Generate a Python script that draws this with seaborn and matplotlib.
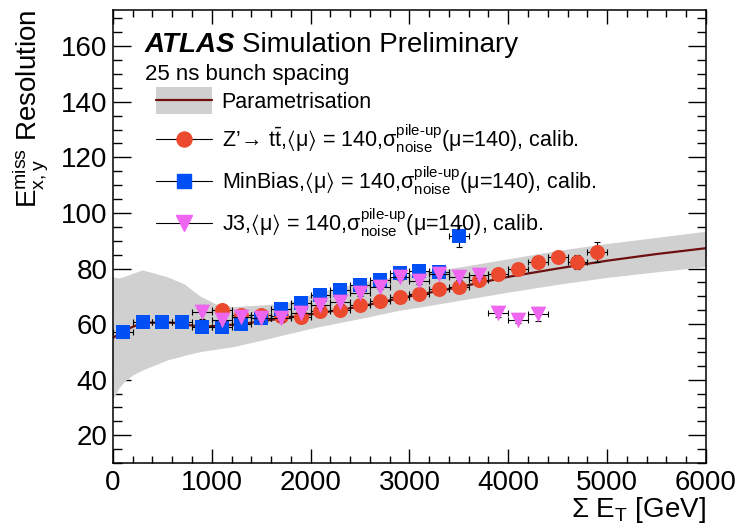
import numpy as np
import pandas as pd
import matplotlib
matplotlib.use("Agg")
import matplotlib.pyplot as plt
import seaborn as sns
from matplotlib.lines import Line2D
from matplotlib.patches import Patch, Rectangle
from matplotlib.ticker import MultipleLocator
from matplotlib.legend_handler import HandlerBase

# ---------------- data ----------------
param_x = [0, 100, 300, 600, 900, 1300, 1700, 2100, 2500, 2900, 3500, 4000, 4500, 5000, 5500, 6000]
param_y = [55.0, 57.5, 60.5, 60.5, 59.0, 60.0, 62.0, 64.0, 66.3, 69.3, 73.3, 77.0, 80.0, 82.8, 85.2, 87.3]

band_x = [0, 60, 120, 200, 300, 550, 720, 880, 1050, 1220, 1550, 1760, 2060, 2230, 2500, 2900, 3100, 3500, 4000, 4500, 5000, 5500, 6000]
band_hi = [77.0, 76.6, 77.2, 78.3, 79.5, 77.0, 74.5, 70.1, 67.1, 66.3, 67.0, 67.7, 71.3, 72.8, 75.0, 77.5, 78.5, 80.5, 83.5, 86.5, 89.0, 91.2, 93.4]
band_lo = [33.0, 37.0, 39.5, 41.7, 43.5, 47.1, 48.7, 50.1, 51.0, 51.9, 54.6, 56.4, 58.9, 60.1, 62.0, 65.0, 66.1, 68.5, 71.5, 74.3, 76.8, 78.8, 80.7]

zp_x = [1100, 1300, 1500, 1700, 1900, 2100, 2300, 2500, 2700, 2900, 3100, 3300, 3500, 3700, 3900, 4100, 4300, 4500, 4700, 4900]
zp_y = [65.2, 63.3, 63.3, 62.8, 62.6, 64.6, 65.1, 67.0, 68.2, 69.9, 70.7, 72.5, 73.5, 75.9, 78.1, 79.9, 82.5, 84.3, 82.5, 85.9]
zp_err = [2.0, 1.0, 1.0, 1.0, 1.0, 1.0, 1.0, 1.0, 1.0, 1.0, 1.0, 1.0, 1.0, 1.0, 1.0, 1.2, 1.5, 1.5, 2.5, 3.5]

mb_x = [100, 300, 500, 700, 900, 1100, 1300, 1500, 1700, 1900, 2100, 2300, 2500, 2700, 2900, 3100, 3300, 3500]
mb_y = [57.0, 60.7, 60.9, 60.9, 59.1, 58.9, 60.0, 62.1, 65.4, 67.5, 70.5, 72.3, 74.2, 75.7, 78.5, 79.0, 78.6, 91.6]
mb_err = [2.0, 1.0, 1.0, 1.0, 1.0, 1.0, 1.0, 1.0, 1.0, 1.0, 1.0, 1.0, 1.0, 1.0, 1.0, 1.0, 1.5, 4.0]

j3_x = [900, 1100, 1300, 1500, 1700, 1900, 2100, 2300, 2500, 2700, 2900, 3100, 3300, 3500, 3700, 3900, 4100, 4300]
j3_y = [64.5, 61.5, 62.7, 62.1, 62.1, 64.1, 66.9, 68.1, 71.2, 73.5, 77.0, 75.5, 78.2, 76.9, 77.7, 63.9, 61.5, 63.7]
j3_err = [2.5, 1.0, 1.0, 1.0, 1.0, 1.0, 1.0, 1.0, 1.0, 1.0, 1.0, 1.0, 1.0, 1.0, 1.0, 1.5, 1.0, 2.5]

bin_half = 100

labels = [
    "Parametrisation",
    r"Z’$\!\rightarrow\!$ t$\bar{\mathrm{t}}$,$\langle$μ$\rangle$ = 140,$\mathrm{\sigma}^{\mathrm{pile‐up}}_{\mathrm{noise}}$(μ=140), calib.",
    r"MinBias,$\langle$μ$\rangle$ = 140,$\mathrm{\sigma}^{\mathrm{pile‐up}}_{\mathrm{noise}}$(μ=140), calib.",
    r"J3,$\langle$μ$\rangle$ = 140,$\mathrm{\sigma}^{\mathrm{pile‐up}}_{\mathrm{noise}}$(μ=140), calib.",
]

# ---------------- style ----------------
sns.set_theme(style="ticks")
plt.rcParams["font.family"] = ["Liberation Sans", "DejaVu Sans"]
plt.rcParams["mathtext.fontset"] = "custom"
plt.rcParams["mathtext.rm"] = "Liberation Sans"
plt.rcParams["mathtext.it"] = "Liberation Sans:italic"
plt.rcParams["mathtext.bf"] = "Liberation Sans:bold"
plt.rcParams["mathtext.fallback"] = "stixsans"
for k in ["text.color", "axes.labelcolor", "xtick.color", "ytick.color", "axes.edgecolor"]:
    plt.rcParams[k] = "black"

RED = "#EC4A2E"
BLUE = "#0050F5"
MAG = "#EE66F0"
BAND = "#D0D0D0"
LINE = "#6E1010"

fig = plt.figure(figsize=(7.43, 5.28), dpi=100)
ax = fig.add_axes([0.152, 0.123, 0.798, 0.858])

# band + parametrisation
ax.fill_between(band_x, band_lo, band_hi, color=BAND, lw=0, zorder=1)
param_df = pd.DataFrame({"x": param_x, "y": param_y})
sns.lineplot(data=param_df, x="x", y="y", ax=ax, color=LINE, lw=1.6, zorder=2, legend=False)

def draw_series(xs, ys, errs, color, marker, ms, z):
    ax.errorbar(xs, ys, yerr=errs, xerr=bin_half, fmt="none", ecolor="black",
                elinewidth=0.8, capsize=2.5, capthick=0.8, zorder=z)
    df = pd.DataFrame({"x": xs, "y": ys})
    sns.scatterplot(data=df, x="x", y="y", ax=ax, marker=marker, s=ms ** 2,
                    color=color, edgecolor=color, linewidth=0, zorder=z + 0.5, legend=False)

draw_series(zp_x, zp_y, zp_err, RED, "o", 10.8, 3)
draw_series(mb_x, mb_y, mb_err, BLUE, "s", 10.3, 4)
draw_series(j3_x, j3_y, j3_err, MAG, "v", 11.3, 5)

# axes
ax.set_xlim(0, 6000)
ax.set_ylim(10, 173)
ax.xaxis.set_major_locator(MultipleLocator(1000))
ax.xaxis.set_minor_locator(MultipleLocator(200))
ax.yaxis.set_major_locator(MultipleLocator(20))
ax.yaxis.set_minor_locator(MultipleLocator(5))
ax.tick_params(axis="both", which="both", direction="in", top=True, right=True,
               color="black", labelcolor="black", width=1.0)
ax.tick_params(axis="x", which="major", length=9.8, labelsize=20, pad=5)
ax.tick_params(axis="x", which="minor", length=4.9)
ax.tick_params(axis="y", which="major", length=12.8, labelsize=20, pad=4)
ax.tick_params(axis="y", which="minor", length=6.4)
for s in ax.spines.values():
    s.set_color("black")
    s.set_linewidth(1.1)

ax.set_xlabel(r"$\mathrm{\Sigma}$ E$_{\mathrm{T}}$ [GeV]", fontsize=20, loc="right")
ax.xaxis.set_label_coords(1.0, -0.07)
ax.set_ylabel(r"E$^{\mathrm{miss}}_{\mathrm{x,y}}$ Resolution", fontsize=20, loc="top")
ax.yaxis.set_label_coords(-0.106, 1.0)

# texts
t1 = ax.text(0.054, 0.908, "ATLAS", transform=ax.transAxes, fontsize=20,
             fontweight="bold", fontstyle="italic", va="baseline", ha="left")
ax.annotate("Simulation Preliminary", xy=(1, 0), xycoords=t1, xytext=(5, 0),
            textcoords="offset points", fontsize=20, va="bottom", ha="left")
ax.text(0.054, 0.846, "25 ns bunch spacing", transform=ax.transAxes, fontsize=16,
        va="baseline", ha="left")

# legend
class HandlerBand(HandlerBase):
    def create_artists(self, legend, orig_handle, xdescent, ydescent, width, height, fontsize, trans):
        hh = fontsize * 1.3
        yc = height / 2 - ydescent
        r = Rectangle((-xdescent, yc - hh / 2), width, hh, facecolor=BAND, edgecolor="none", transform=trans)
        l = Line2D([-xdescent, -xdescent + width], [yc, yc], color=LINE, lw=1.6, transform=trans)
        return [r, l]

band_handle = Patch(facecolor=BAND)
h_zp = Line2D([], [], color="black", lw=0.8, marker="o", ms=10.8, mfc=RED, mec=RED)
h_mb = Line2D([], [], color="black", lw=0.8, marker="s", ms=10.3, mfc=BLUE, mec=BLUE)
h_j3 = Line2D([], [], color="black", lw=0.8, marker="v", ms=11.3, mfc=MAG, mec=MAG)

ax.legend(handles=[band_handle, h_zp, h_mb, h_j3], labels=labels, loc="upper left",
          bbox_to_anchor=(0.0725, 0.819), frameon=False, fontsize=15.5,
          handlelength=2.6, handletextpad=0.45, labelspacing=0.43, borderpad=0,
          borderaxespad=0, handler_map={band_handle: HandlerBand()})

fig.savefig("out.png", dpi=100)
